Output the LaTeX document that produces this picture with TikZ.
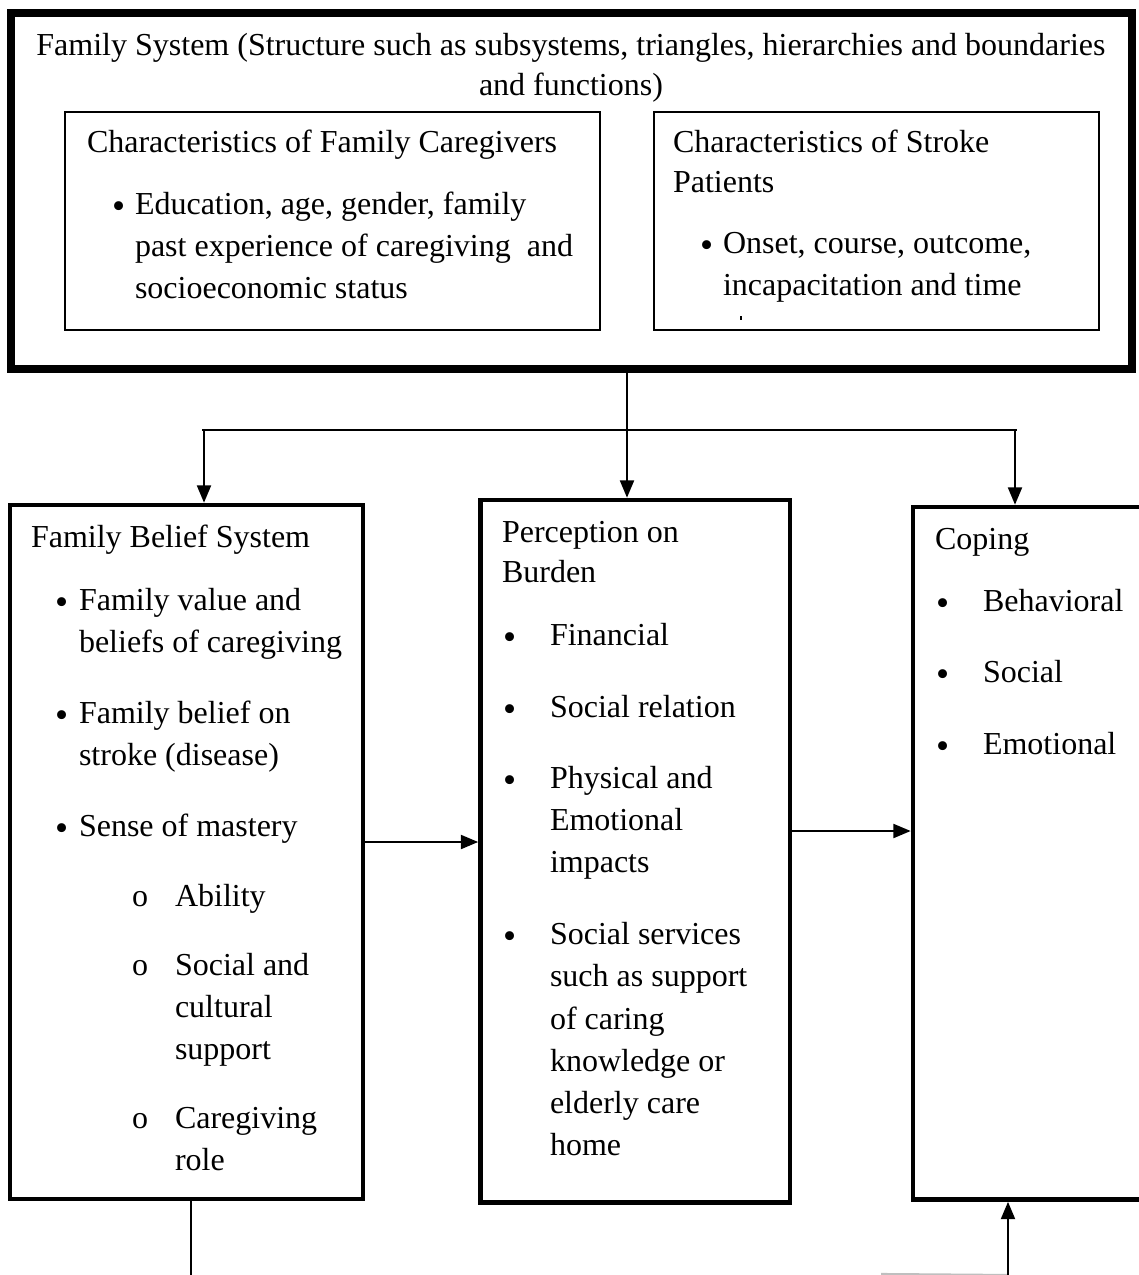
\documentclass[tikz,border=0pt]{standalone}
\usepackage{fontspec}
\setmainfont{Liberation Serif}
\usetikzlibrary{arrows.meta,calc}
\tikzset{
  txt/.style={anchor=base west,inner sep=0pt,outer sep=0pt,font=\fontsize{12}{15.9}\selectfont},
  ctxt/.style={anchor=base,inner sep=0pt,outer sep=0pt,font=\fontsize{12}{15.9}\selectfont},
  bul/.style={anchor=base west,inner sep=0pt,outer sep=0pt,font=\fontsize{14}{15.9}\selectfont},
  bigbox/.style={draw,line width=3pt,inner sep=0pt},
  innerbox/.style={draw,line width=1.1pt,inner sep=0pt},
  colbox/.style={draw,line width=1.7pt,inner sep=0pt},
  conn/.style={line width=0.9pt},
  arr/.style={line width=0.9pt,-{Triangle[length=6.5pt,width=5.2pt]}},
}
\newcommand\lineat[4]{\node[txt] (#1) at (#2,#3) {#4};}
\newcommand\bulat[3]{\node[bul] (#1) at (#2,#3+4) {•};}
\begin{document}
\begin{tikzpicture}[x=0.375pt,y=-0.375pt]
\useasboundingbox (0,0) rectangle (1139,1275);
% boxes
\node[bigbox,minimum width=1121*0.375pt,minimum height=356.5*0.375pt] (outer) at (571.5,190.75) {};
\node[innerbox,minimum width=535*0.375pt,minimum height=218*0.375pt] (care) at (332.5,221) {};
\node[innerbox,minimum width=445*0.375pt,minimum height=218*0.375pt] (pat) at (876.5,221) {};
\node[colbox,minimum width=353*0.375pt,minimum height=694*0.375pt] (lbox) at (186.5,852) {};
\node[colbox,minimum width=309.5*0.375pt,minimum height=702.5*0.375pt] (mbox) at (635.25,851.25) {};
\begin{scope}
\clip (0,0) rectangle (1139,1275);
\node[colbox,minimum width=247*0.375pt,minimum height=692.5*0.375pt] (rbox) at (1036.5,853.25) {};
\end{scope}
% top texts
\node[ctxt] (title1) at (571,55) {Family System (Structure such as subsystems, triangles, hierarchies and boundaries};
\node[ctxt] (title2) at (571,95) {and functions)};
\lineat{c0}{87}{152}{Characteristics of Family Caregivers}
\bulat{cb}{112}{214}
\lineat{c1}{135}{214}{Education, age, gender, family}
\lineat{c2}{135}{256}{past experience of caregiving\ \ and}
\lineat{c3}{135}{298}{socioeconomic status}
\lineat{p0}{673}{152}{Characteristics of Stroke}
\lineat{p1}{673}{192}{Patients}
\bulat{pb}{700}{253}
\lineat{p2}{723}{253}{Onset, course, outcome,}
\lineat{p3}{723}{295}{incapacitation and time}
\fill (739.5,316) rectangle (741.5,320);
% left column
\lineat{l0}{31}{547}{Family Belief System}
\bulat{lb1}{55}{610}
\lineat{l1}{79}{610}{Family value and}
\lineat{l2}{79}{652}{beliefs of caregiving}
\bulat{lb2}{55}{723}
\lineat{l3}{79}{723}{Family belief on}
\lineat{l4}{79}{765}{stroke (disease)}
\bulat{lb3}{55}{836}
\lineat{l5}{79}{836}{Sense of mastery}
\lineat{lo1}{132}{906}{o}
\lineat{l6}{175}{906}{Ability}
\lineat{lo2}{132}{975}{o}
\lineat{l7}{175}{975}{Social and}
\lineat{l8}{175}{1017}{cultural}
\lineat{l9}{175}{1059}{support}
\lineat{lo3}{132}{1128}{o}
\lineat{l10}{175}{1128}{Caregiving}
\lineat{l11}{175}{1170}{role}
% middle column
\lineat{m0}{502}{542}{Perception on}
\lineat{m1}{502}{582}{Burden}
\bulat{mb1}{503}{645}
\lineat{m2}{550}{645}{Financial}
\bulat{mb2}{503}{717}
\lineat{m3}{550}{717}{Social relation}
\bulat{mb3}{503}{788}
\lineat{m4}{550}{788}{Physical and}
\lineat{m5}{550}{830}{Emotional}
\lineat{m6}{550}{872}{impacts}
\bulat{mb4}{503}{944}
\lineat{m7}{550}{944}{Social services}
\lineat{m8}{550}{986}{such as support}
\lineat{m9}{550}{1029}{of caring}
\lineat{m10}{550}{1071}{knowledge or}
\lineat{m11}{550}{1113}{elderly care}
\lineat{m12}{550}{1155}{home}
% right column
\lineat{r0}{935}{549}{Coping}
\bulat{rb1}{936}{611}
\lineat{r1}{983}{611}{Behavioral}
\bulat{rb2}{936}{682}
\lineat{r2}{983}{682}{Social}
\bulat{rb3}{936}{754}
\lineat{r3}{983}{754}{Emotional}
% connectors
\coordinate (hl) at (204,430);
\coordinate (hr) at (1015,430);
\coordinate (hm) at (627,430);
\coordinate (a1) at (0,842);
\coordinate (a2) at (0,831);
\coordinate (b1) at (191,1275);
\coordinate (b2) at (1008,1275);
\coordinate (g0) at (881,1274);
\draw[conn] ($(hl)+(-2,0)$) -- ($(hr)+(2,0)$);
\draw[arr] (outer.south -| hm) -- (hm |- mbox.north);
\draw[arr] (hl) -- (hl |- lbox.north);
\draw[arr] (hr) -- (hr |- rbox.north);
\draw[arr] (lbox.east |- a1) -- (mbox.west |- a1);
\draw[arr] (mbox.east |- a2) -- (rbox.west |- a2);
\draw[conn] (lbox.south -| b1) -- (b1);
\draw[line width=0.8pt,gray!50] (g0) -- (b2);
\draw[arr] (b2) -- (b2 |- rbox.south);
\end{tikzpicture}
\end{document}
